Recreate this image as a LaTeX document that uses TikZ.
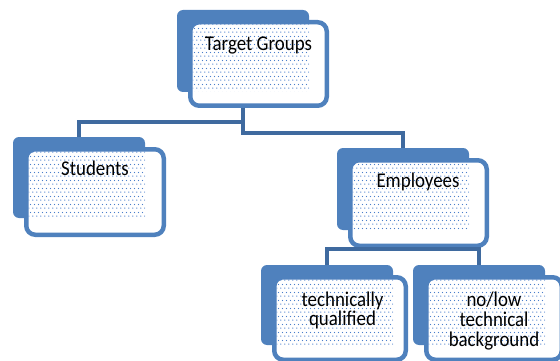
\documentclass[tikz,border=0pt]{standalone}
\usepackage{fontspec}
\setmainfont{Carlito}[FakeStretch=0.9]
\usetikzlibrary{patterns.meta}

\definecolor{boxblue}{HTML}{4F81BD}
\definecolor{linkblue}{HTML}{3F6A9F}
\definecolor{dotblue}{HTML}{4A7FCC}

% staggered dot grid used inside the cards
\pgfdeclarepattern{
  name=stagdots,
  type=uncolored,
  bottom left={\pgfpoint{0pt}{0pt}},
  top right={\pgfpoint{4pt}{8pt}},
  tile size={\pgfpoint{4pt}{8pt}},
  code={
    \pgfpathcircle{\pgfpoint{1pt}{1pt}}{0.75pt}
    \pgfpathcircle{\pgfpoint{3pt}{5pt}}{0.75pt}
    \pgfusepath{fill}
  }
}

\tikzset{
  backbox/.style={fill=boxblue, rounded corners=6pt, inner sep=0pt,
    outer sep=0pt, minimum width=132pt, anchor=north west},
  frontbox/.style={draw=boxblue, line width=4.5pt, fill=white,
    rounded corners=9pt, inner sep=0pt, anchor=north west},
  dotfill/.style={pattern={stagdots}, pattern color=dotblue},
  link/.style={draw=linkblue, line width=4pt},
  label/.style={font=\fontsize{21}{20}\selectfont, anchor=base,
    inner sep=0pt, text=black}
}

% #1 name, #2 x, #3 y, #4 back height, #5 front width-4.5, #6 front height-4.5
\newcommand\orgunit[6]{%
  \node[backbox, minimum height=#4pt] (#1B) at (#2,#3) {};
  \node[frontbox, minimum width=#5pt, minimum height=#6pt] (#1F)
    at ([shift={(11,10)}]#1B.north west) {};
  \begin{scope}
    \clip (#1B.north west) rectangle (#1B.south east);
    \fill[dotfill] ([shift={(4.5,4.5)}]#1F.north west)
      rectangle ([shift={(-4.5,-4.5)}]#1F.south east);
  \end{scope}}

\begin{document}
\begin{tikzpicture}[x=1pt,y=-1pt]
\useasboundingbox (0,0) rectangle (560,361);

% bus levels of the elbow connectors
\coordinate (busL) at (0,122);
\coordinate (busR) at (0,133);
\coordinate (busE) at (0,249);

% cards
\orgunit{tg}{177}{10}{82}{136.5}{83.5}
\orgunit{st}{13}{137}{81}{137.5}{85.5}
\orgunit{em}{337}{148}{82}{136.5}{85.5}
\orgunit{tq}{261}{265}{80}{131.5}{82.5}
\orgunit{nl}{413}{265}{80}{135.5}{82.5}

% elbow connectors from parent to child cards
\draw[link] (tgF.south -| tgB.south) -- (tgB.south |- busL) -| (stB.north);
\draw[link] (tgF.south -| tgB.south) -- (tgB.south |- busR) -| (emB.north);
\draw[link] (emF.south -| emB.south) -- (emB.south |- busE) -| (tqB.north);
\draw[link] (emF.south -| emB.south) -- (emB.south |- busE) -| (nlB.north);

% labels
\node[label] (tgT) at (258.5,50.3) {Target Groups};
\node[label] (stT) at (95,175.7) {Students};
\node[label] (emT) at (418,187.7) {Employees};
\node[label] (tqT1) at (342.5,306) {technically};
\node[label] (tqT2) at (342.5,325.7) {qualified};
\node[label] (nlT1) at (494,306) {no/low};
\node[label] (nlT2) at (494,326.5) {technical};
\node[label] (nlT3) at (494,346.7) {background};
\end{tikzpicture}
\end{document}
